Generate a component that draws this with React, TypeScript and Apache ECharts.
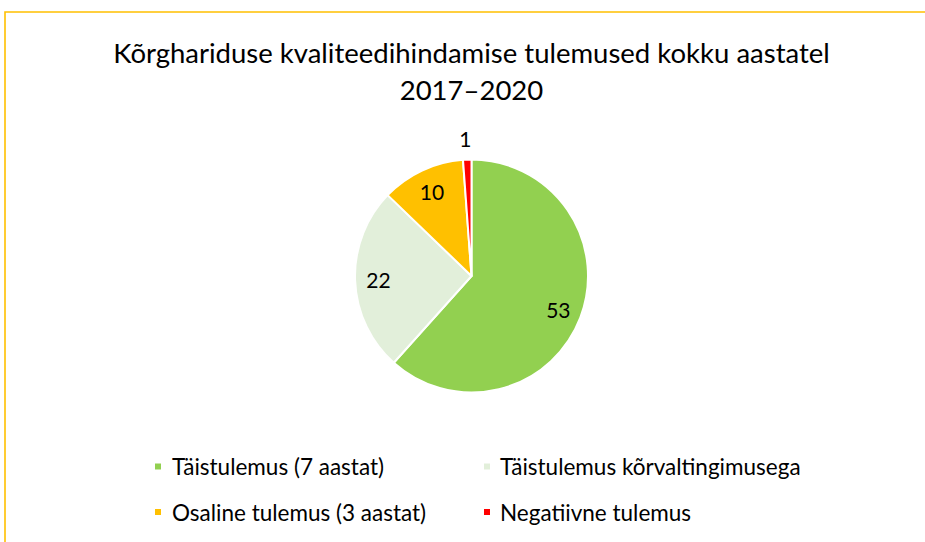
import React, { useEffect, useRef } from "react";
import * as echarts from "echarts";

const titleLines = ["Kõrghariduse kvaliteedihindamise tulemused kokku aastatel", "2017–2020"];
const categories = [
  "Täistulemus (7 aastat)",
  "Täistulemus kõrvaltingimusega",
  "Osaline tulemus (3 aastat)",
  "Negatiivne tulemus",
];
const values = [53, 22, 10, 1];
const colors = ["#92D050", "#E2EFDA", "#FFC000", "#FF0000"];

const FONT = "Lato, 'Open Sans', sans-serif";

export default function App() {
  const ref = useRef<HTMLDivElement>(null);
  useEffect(() => {
    if (!ref.current) return;
    const chart = echarts.init(ref.current, undefined, { renderer: "svg" });
    const mainData = categories.map((name, i) => ({
      name,
      value: values[i],
      itemStyle: { color: colors[i] },
      label:
        i === 3
          ? { show: true, position: "outside", distanceToLabelLine: -5 }
          : { show: false },
      labelLine: { show: false, length: 21.5, length2: 0 },
    }));
    const overlayData = categories.map((name, i) => ({
      name,
      value: values[i],
      itemStyle: { color: "rgba(0,0,0,0)" },
      label: { show: i !== 3 },
    }));
    const legendPos = [
      { left: 153, top: 454.5, gap: 5 },
      { left: 482, top: 454.5, gap: 4 },
      { left: 153, top: 500, gap: 5 },
      { left: 482, top: 500, gap: 4 },
    ];
    chart.setOption({
      animation: false,
      backgroundColor: "#ffffff",
      graphic: [
        {
          type: "rect",
          shape: { x: 5, y: 12, width: 1200, height: 1200 },
          style: { fill: "none", stroke: "#FFC000", lineWidth: 1.6 },
          silent: true,
        },
        {
          type: "text",
          x: 471.5,
          y: 52,
          silent: true,
          style: {
            text: titleLines[0],
            textAlign: "center",
            textVerticalAlign: "middle",
            fontFamily: FONT,
            fontSize: 27.5,
            fill: "#000000",
          },
        },
        {
          type: "text",
          x: 471.5,
          y: 89,
          silent: true,
          style: {
            text: titleLines[1],
            textAlign: "center",
            textVerticalAlign: "middle",
            fontFamily: FONT,
            fontSize: 27.5,
            fill: "#000000",
          },
        },
      ],
      legend: categories.map((name, i) => ({
        data: [name],
        left: legendPos[i].left,
        top: legendPos[i].top,
        padding: 0,
        icon: "rect",
        itemWidth: 8,
        itemHeight: 8,
        selectedMode: false,
        textStyle: {
          fontFamily: FONT,
          fontSize: 22.5,
          lineHeight: 24,
          color: "#000000",
          padding: [0, 0, 0, legendPos[i].gap],
        },
      })),
      series: [
        {
          type: "pie",
          radius: [0, 116.5],
          center: [471.5, 276],
          startAngle: 90,
          clockwise: true,
          data: mainData,
          itemStyle: { borderColor: "#ffffff", borderWidth: 2 },
          label: {
            fontFamily: FONT,
            fontSize: 21,
            color: "#000000",
            formatter: "{c}",
          },
          emphasis: { disabled: true },
        },
        {
          type: "pie",
          radius: [0, 180],
          center: [471.5, 276],
          startAngle: 90,
          clockwise: true,
          silent: true,
          legendHoverLink: false,
          data: overlayData,
          label: {
            position: "inside",
            fontFamily: FONT,
            fontSize: 21,
            color: "#000000",
            formatter: "{c}",
          },
          labelLine: { show: false },
          emphasis: { disabled: true },
          z: 3,
        },
      ],
    });
    return () => chart.dispose();
  }, []);
  return (
    <div
      ref={ref}
      style={{ position: "fixed", left: 0, top: 0, width: 925, height: 542 }}
    />
  );
}
